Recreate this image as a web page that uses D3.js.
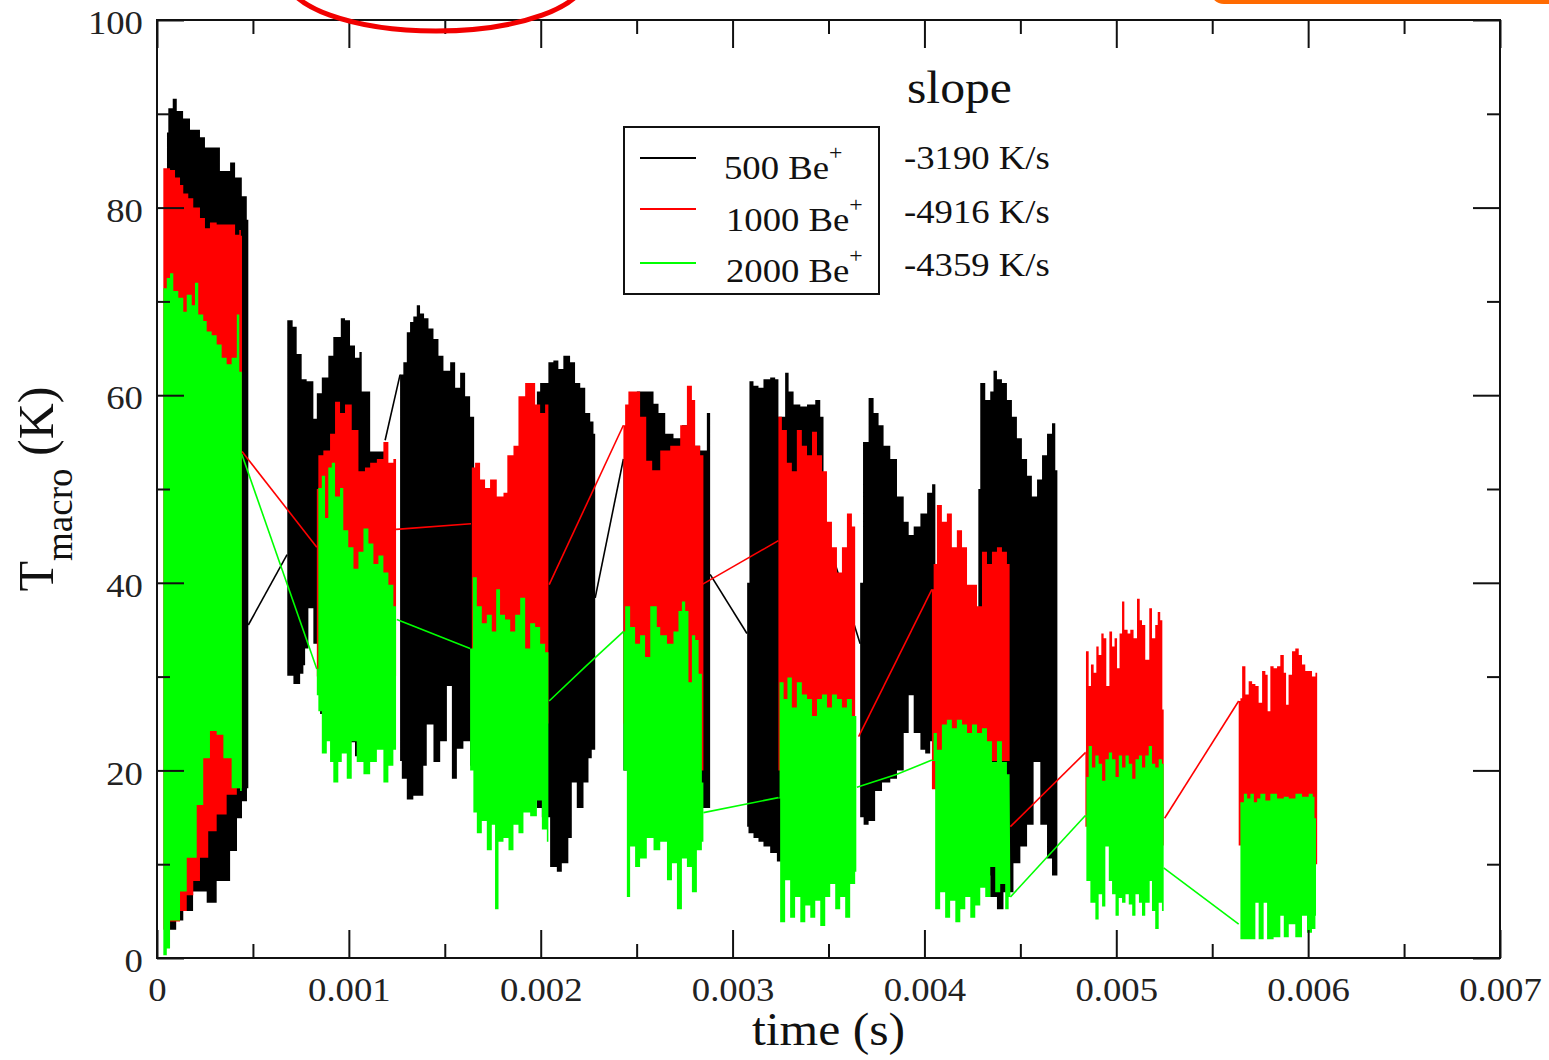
<!DOCTYPE html>
<html lang="en">

<head>
  <meta charset="UTF-8">
  <title>T macro vs time</title>
  <style>
    body {
      margin: 0;
      background: #fff;
    }

    svg {
      display: block;
    }
  </style>
  <script src="https://cdn.jsdelivr.net/npm/d3@7"></script>
</head>

<body>
  <div id="wrapper"></div>
  <script>
    // time is in microseconds, temperature in K
    // each series: list of segments, each segment = upper / lower envelope of the fast oscillation
    const black500Top = [
      [[52, 88], [59, 90.6], [82, 91.6], [103, 90.3], [136, 89.5], [172, 88.3], [224, 87.5], [250, 86.4], [292, 86.4], [328, 83.9], [381, 84.8], [407, 83.2], [442, 81.2], [468, 78.7], [476, 78]],
      [[679, 68], [707, 67.3], [728, 64.4], [754, 61.7], [780, 61.5], [815, 57.5], [833, 60.2], [859, 61.9], [893, 64.2], [919, 66.2], [958, 68.2], [980, 68], [1006, 65.3], [1032, 64], [1055, 64.6], [1067, 60.4], [1111, 54], [1189, 55.2]],
      [[1267, 62.2], [1284, 63.5], [1302, 66.7], [1319, 67.8], [1336, 68.4], [1354, 69.6], [1371, 68.7], [1392, 68.2], [1415, 67.1], [1441, 66], [1467, 64.2], [1493, 62.6], [1528, 63.5], [1554, 60.8], [1580, 62.4], [1606, 59.9], [1632, 57.7], [1653, 53.6]],
      [[1980, 60.4], [1997, 61.3], [2040, 63.5], [2066, 63.7], [2092, 62.8], [2118, 64.2], [2153, 63.5], [2179, 61.3], [2206, 60.8], [2232, 58.1], [2258, 57.2], [2275, 55.9], [2284, 50]],
      [[2431, 53.2], [2445, 58], [2501, 60.4], [2553, 60.4], [2588, 59.1], [2614, 58.1], [2649, 55.9], [2692, 55.4], [2736, 56.8], [2769, 58], [2796, 54.6], [2831, 54.1], [2866, 58.1], [2883, 45.6]],
      [[3076, 40], [3088, 61.5], [3109, 61], [3135, 60.8], [3161, 61.7], [3196, 61.9], [3222, 61.7], [3239, 57.7], [3274, 62.4], [3292, 60.4], [3318, 59], [3353, 58.8], [3388, 59], [3431, 59.5], [3457, 57.7], [3474, 53.6]],
      [[3665, 40], [3680, 55], [3709, 59.7], [3735, 58.1], [3761, 56.8], [3787, 54.6], [3822, 53.2], [3857, 49.2], [3892, 46.5], [3918, 45.1], [3944, 46], [3979, 47.4], [4014, 49.6], [4040, 50.5], [4057, 48.7]],
      [[4281, 50], [4291, 61.3], [4317, 59.5], [4343, 60.4], [4360, 62.6], [4378, 61.7], [4404, 61.3], [4430, 59.5], [4456, 57.7], [4482, 55.4], [4508, 53.2], [4535, 51.4], [4560, 49.2], [4587, 51], [4613, 53.6], [4639, 55.9], [4665, 57], [4682, 52], [4693, 50]]
    ];
    const black500Bottom = [
      [[52, 3], [100, 4], [137, 5], [188, 7.1], [259, 5.9], [311, 8.2], [381, 11.4], [417, 14.9], [443, 16.7], [469, 18.1], [476, 18.5]],
      [[679, 30.1], [711, 29.2], [746, 30.3], [763, 31.2], [772, 33], [789, 37.3], [815, 33.5], [850, 26], [954, 23], [1032, 21.5], [1111, 23], [1189, 24]],
      [[1267, 21], [1276, 19.1], [1302, 16.9], [1336, 17.3], [1388, 20.5], [1406, 24.9], [1441, 20.9], [1476, 23.1], [1511, 29], [1537, 19.1], [1563, 22.3], [1597, 23.1], [1632, 20.5], [1653, 23]],
      [[1980, 16], [2006, 15], [2049, 9.7], [2084, 9.2], [2110, 10.1], [2144, 12.8], [2162, 18.7], [2188, 16], [2223, 18.7], [2249, 21.3], [2266, 22.2], [2284, 24.9]],
      [[2431, 20], [2623, 18], [2831, 16], [2857, 16], [2883, 17]],
      [[3076, 14], [3083, 13.3], [3109, 12.8], [3135, 12.4], [3161, 11.9], [3196, 11.2], [3231, 10.3], [3353, 10], [3474, 12]],
      [[3665, 15], [3683, 14.2], [3709, 14.6], [3743, 17.8], [3779, 18.7], [3822, 19.1], [3857, 20], [3892, 24], [3918, 28], [3944, 24], [3979, 22.2], [4004, 21.8], [4030, 23.1], [4057, 22]],
      [[4281, 9], [4291, 8.8], [4343, 6.5], [4378, 5.2], [4412, 7], [4448, 7], [4464, 10.1], [4500, 11.9], [4535, 14.2], [4569, 20.9], [4604, 14.2], [4639, 10.6], [4665, 8.8], [4693, 8]]
    ];
    const black500Links = [
      [[476, 35.5], [678, 43]],
      [[1189, 55.2], [1267, 62.2]],
      [[1653, 38], [1975, 36]],
      [[2284, 38.4], [2431, 53.2]],
      [[2883, 40.9], [3075, 34.6]],
      [[3474, 46], [3665, 33.5]],
      [[4057, 35], [4281, 30]]
    ];

    const red1000Top = [
      [[33, 84.2], [68, 84], [94, 83.2], [120, 82.4], [137, 81.5], [163, 81], [189, 80], [224, 78.9], [250, 77.8], [276, 78.4], [311, 78.2], [346, 78.2], [381, 78.2], [407, 77.1], [429, 77.6], [437, 77], [443, 54]],
      [[833, 50], [841, 53.6], [867, 54.1], [902, 55.9], [928, 59.3], [954, 58.1], [980, 59], [1015, 56.3], [1050, 51.9], [1084, 52.3], [1111, 52.8], [1146, 53.2], [1180, 55], [1206, 52.8], [1232, 53.2], [1246, 46.7]],
      [[1641, 52.3], [1658, 52.8], [1684, 51], [1710, 50.1], [1736, 51], [1771, 49.2], [1806, 49.6], [1826, 53.6], [1858, 54.6], [1884, 59.9], [1919, 61.3], [1945, 61.3], [1971, 59], [1997, 58.1], [2023, 59], [2040, 45.6]],
      [[2431, 56.8], [2440, 59], [2457, 60.4], [2501, 60.4], [2518, 57.7], [2550, 53], [2581, 52], [2623, 54.1], [2675, 54.6], [2727, 56.8], [2762, 61], [2788, 59.5], [2805, 54.6], [2831, 53.6], [2848, 45.6]],
      [[3239, 57.7], [3257, 56.3], [3283, 52.8], [3309, 51.9], [3335, 56.3], [3361, 54.6], [3388, 53.6], [3414, 56.1], [3440, 53.6], [3466, 51.9], [3492, 46.5], [3518, 43.8], [3544, 41.1], [3570, 43.8], [3596, 47.4], [3622, 46], [3639, 33.9]],
      [[4039, 39.3], [4048, 42], [4065, 48.3], [4091, 46.5], [4117, 47.4], [4143, 43.8], [4169, 45.6], [4196, 43.8], [4222, 39.8], [4248, 39.8], [4274, 37.5], [4300, 43.3], [4326, 42], [4352, 43.3], [4378, 43.8], [4404, 43.3], [4430, 42], [4444, 38]],
      [[4839, 22], [4842, 32.7], [4856, 29], [4868, 31.3], [4882, 30.4], [4896, 33.2], [4908, 32.3], [4922, 34.6], [4934, 34.1], [4948, 29], [4964, 34.8], [4978, 33.2], [4991, 34.1], [5004, 30.9], [5017, 34.6], [5030, 38], [5042, 35], [5059, 34.6], [5073, 35], [5090, 34.1], [5108, 38.3], [5122, 36], [5134, 35.5], [5151, 31.8], [5172, 37.3], [5186, 34.1], [5203, 35.5], [5216, 36.9], [5229, 36], [5240, 26.5], [5247, 20.7]],
      [[5638, 27.4], [5647, 27.7], [5656, 31.1], [5673, 28.1], [5690, 29.5], [5708, 29.2], [5725, 29], [5742, 27.2], [5760, 30.6], [5777, 30.2], [5789, 26.3], [5803, 31.1], [5820, 30.9], [5838, 31.1], [5855, 32.3], [5873, 30.4], [5885, 27], [5898, 30.2], [5916, 32.7], [5933, 33], [5951, 32.3], [5968, 31.3], [5985, 30.6], [6003, 30.6], [6020, 30], [6038, 30.4], [6047, 21.4]]
    ];
    const red1000Bottom = [
      [[33, 3], [68, 3.9], [120, 5], [155, 6.7], [189, 8.2], [224, 10.7], [267, 13.5], [311, 15.3], [363, 17.4], [416, 18.1], [443, 18.1]],
      [[833, 30], [950, 29], [1050, 28], [1150, 30], [1246, 37.5]],
      [[1641, 28], [1750, 26], [1850, 26], [1950, 25], [2040, 30]],
      [[2431, 25], [2550, 22], [2650, 22], [2760, 20], [2848, 22]],
      [[3239, 20], [3400, 18], [3550, 18], [3639, 22]],
      [[4039, 18], [4200, 18], [4350, 21], [4444, 21.5]],
      [[4839, 14], [5000, 12], [5247, 14]],
      [[5638, 12], [5850, 10], [6047, 12]]
    ];
    const red1000Links = [
      [[443, 54], [833, 43.8]],
      [[1246, 45.7], [1637, 46.3]],
      [[2044, 39.8], [2431, 56.8]],
      [[2840, 39.8], [3239, 44.5]],
      [[3657, 23.6], [4039, 39.3]],
      [[4448, 14], [4839, 21.9]],
      [[5252, 14.9], [5638, 27.4]]
    ];

    const green2000Top = [
      [[33, 71.4], [51, 72.5], [68, 73], [85, 71.1], [111, 70.4], [137, 68.9], [155, 70.7], [181, 69.6], [198, 72], [215, 68.6], [241, 67.9], [259, 66.8], [285, 66.4], [311, 65.4], [337, 64], [363, 63.3], [389, 64], [416, 68.6], [429, 62.5], [442, 53.7]],
      [[833, 30.8], [841, 50.1], [859, 51.4], [876, 46.9], [893, 52.3], [911, 52.8], [928, 49.2], [954, 50.1], [971, 45.6], [997, 43.8], [1024, 41.5], [1050, 43.3], [1076, 45.8], [1102, 44.2], [1128, 42], [1154, 42.9], [1180, 41.1], [1206, 39.8], [1232, 37.5], [1246, 36.6]],
      [[1632, 33], [1646, 40.6], [1667, 37.5], [1693, 35.7], [1719, 36.6], [1745, 34.8], [1768, 39.3], [1788, 36.6], [1814, 36.1], [1841, 34.8], [1867, 36.6], [1893, 38.4], [1919, 33], [1945, 35.7], [1971, 35.3], [1997, 33.5], [2023, 32.6], [2040, 27.6]],
      [[2431, 34.8], [2440, 37.5], [2466, 35.3], [2492, 33.5], [2518, 34.4], [2544, 32.1], [2571, 37.5], [2605, 35.3], [2623, 34.4], [2658, 33.5], [2692, 34.8], [2718, 37], [2736, 38], [2753, 37], [2770, 29.4], [2788, 34.4], [2805, 33.9], [2823, 30.3], [2840, 18.7], [2848, 16.8]],
      [[3239, 17.1], [3245, 29.4], [3266, 27.6], [3286, 29.9], [3309, 26.7], [3335, 29.4], [3361, 28.1], [3388, 27.6], [3414, 25.8], [3440, 27.6], [3466, 28.1], [3492, 26.7], [3518, 28.1], [3544, 27.6], [3570, 26.7], [3596, 27.6], [3622, 25.8], [3645, 26.7]],
      [[4039, 21.1], [4048, 24], [4065, 22.2], [4091, 24.9], [4117, 25.4], [4143, 24.5], [4169, 25.4], [4196, 24.9], [4222, 24], [4248, 24.9], [4274, 24], [4300, 24.5], [4326, 23.1], [4352, 20.9], [4378, 23.1], [4404, 20.9], [4430, 19.6], [4444, 18.7]],
      [[4839, 15.2], [4844, 19.3], [4856, 22.6], [4873, 20.3], [4891, 21.6], [4908, 20.7], [4926, 18.9], [4943, 21.2], [4961, 21.9], [4978, 21.2], [4996, 19.3], [5013, 21.6], [5030, 20.3], [5048, 21.6], [5065, 20.7], [5083, 19.1], [5100, 21.2], [5118, 21.6], [5134, 20.3], [5151, 21.6], [5169, 22.6], [5186, 20.7], [5203, 20.3], [5221, 21.2], [5238, 20.7], [5247, 9.6]],
      [[5638, 3.6], [5647, 16.6], [5665, 17.5], [5682, 17], [5699, 17.5], [5717, 16.6], [5734, 17], [5751, 17.5], [5777, 16.8], [5803, 17.5], [5838, 17], [5873, 17.2], [5899, 17], [5934, 17.5], [5968, 17.2], [6003, 17.5], [6024, 17.2], [6033, 14.9], [6041, 14.9]]
    ];
    const green2000Bottom = [
      [[33, 0.3], [51, 1], [68, 4], [120, 7.1], [155, 10.7], [207, 16.3], [241, 21.3], [276, 24.2], [311, 23.8], [346, 21.3], [389, 18.1], [433, 17.8], [442, 20]],
      [[833, 28], [841, 26.3], [859, 21.8], [885, 23.1], [902, 20.9], [919, 18.7], [945, 20.9], [963, 21.8], [989, 19.1], [1015, 23.1], [1041, 20.9], [1076, 19.6], [1111, 20.9], [1146, 22.2], [1180, 18.7], [1206, 20.5], [1232, 22.2], [1246, 30]],
      [[1632, 20], [1649, 15.5], [1667, 13.3], [1693, 14.6], [1719, 11.5], [1745, 14.2], [1762, 5.2], [1780, 12.4], [1806, 12.8], [1832, 11.5], [1858, 14.2], [1884, 13.3], [1910, 15.5], [1945, 15.1], [1980, 16.8], [2006, 13.7], [2032, 12.4], [2040, 20]],
      [[2431, 20], [2449, 6.5], [2466, 11.9], [2492, 9.7], [2518, 10.6], [2553, 12.8], [2588, 11.5], [2623, 12.4], [2658, 8.3], [2684, 10.1], [2710, 5.2], [2736, 10.6], [2762, 9.7], [2788, 7], [2814, 11.5], [2840, 12.4], [2848, 15.5]],
      [[3239, 17], [3248, 3.8], [3274, 8.3], [3300, 4.3], [3326, 6.5], [3353, 3.8], [3379, 5.6], [3405, 4.3], [3431, 6.1], [3457, 3.4], [3483, 6.5], [3509, 7.9], [3535, 5.2], [3561, 6.5], [3587, 4.3], [3613, 7.9], [3639, 9.2], [3645, 18]],
      [[4039, 21], [4056, 5.2], [4082, 7], [4108, 4.3], [4134, 6.1], [4161, 3.8], [4187, 5.2], [4213, 6.5], [4239, 4.3], [4265, 5.6], [4291, 7.5], [4317, 6.5], [4343, 9.7], [4369, 7], [4395, 7.9], [4421, 5.2], [4439, 6.5], [4448, 6.5]],
      [[4839, 15], [4844, 8.2], [4865, 5.9], [4891, 4.1], [4908, 6.8], [4926, 5.5], [4943, 11.9], [4961, 8.2], [4978, 6.8], [4996, 4.5], [5013, 6.4], [5030, 5.9], [5048, 6.8], [5065, 5.7], [5083, 4.5], [5100, 6.8], [5118, 5.9], [5134, 4.5], [5151, 5.9], [5174, 8.2], [5186, 5], [5203, 3.1], [5221, 5.9], [5238, 5], [5247, 9.6]],
      [[5638, 3.6], [5647, 2], [5699, 2], [5725, 5.9], [5742, 2], [5768, 5.9], [5786, 2], [5820, 2.2], [5855, 4.5], [5873, 2.2], [5899, 3.6], [5933, 2.2], [5968, 4.5], [5994, 2.7], [6020, 3.1], [6038, 4.5], [6041, 14.9]]
    ];
    const green2000Links = [
      [[442, 53.7], [833, 30.8]],
      [[1250, 36.1], [1632, 33]],
      [[2044, 27.4], [2240, 31.2], [2431, 34.8]],
      [[2848, 15.5], [3239, 17.1]],
      [[3648, 18.2], [3857, 19.6], [4039, 21.1]],
      [[4448, 6.5], [4839, 15.2]],
      [[5247, 9.6], [5638, 3.6]]
    ];

    const xMajorTicks = [0, 0.001, 0.002, 0.003, 0.004, 0.005, 0.006, 0.007];
    const xMinorTicks = [0.0005, 0.0015, 0.0025, 0.0035, 0.0045, 0.0055, 0.0065];
    const xTickLabels = ["0", "0.001", "0.002", "0.003", "0.004", "0.005", "0.006", "0.007"];
    const yMajorTicks = [0, 20, 40, 60, 80, 100];
    const yMinorTicks = [10, 30, 50, 70, 90];
    const yTickLabels = ["0", "20", "40", "60", "80", "100"];

    const legendLabels = ["500 Be", "1000 Be", "2000 Be"];
    const seriesColors = ["#000000", "#ff0000", "#00ff00"];
    const slopeTitle = "slope";
    const slopeValues = ["-3190 K/s", "-4916 K/s", "-4359 K/s"];

    function drawChart() {
      //#region Accessors
      const xAccessor = d => d[0] * 1e-6;
      const yAccessor = d => d[1];
      //#endregion

      //#region Dimensions
      let dimensions = {
        width: 1549,
        height: 1060,
        margin: {
          top: 20,
          right: 49,
          bottom: 102,
          left: 157,
        },
      };
      dimensions.boundedWidth = dimensions.width - dimensions.margin.left - dimensions.margin.right;
      dimensions.boundedHeight = dimensions.height - dimensions.margin.top - dimensions.margin.bottom;
      const serif = "'Liberation Serif', 'Times New Roman', serif";
      const stretch = 1.08;
      //#endregion

      //#region Canvas
      const wrapper = d3.select("#wrapper")
        .append("svg")
        .attr("width", dimensions.width)
        .attr("height", dimensions.height);

      const bounds = wrapper.append("g")
        .attr("transform", `translate(${dimensions.margin.left},${dimensions.margin.top})`);
      //#endregion

      //#region Scales
      const xScale = d3.scaleLinear()
        .domain([0, 0.007])
        .range([0, dimensions.boundedWidth]);

      const yScale = d3.scaleLinear()
        .domain([0, 100])
        .range([dimensions.boundedHeight, 0]);
      //#endregion

      //#region Data
      const topLine = d3.line()
        .x(d => xScale(xAccessor(d)))
        .y(d => yScale(yAccessor(d)))
        .curve(d3.curveStepAfter);
      const bottomLine = d3.line()
        .x(d => xScale(xAccessor(d)))
        .y(d => yScale(yAccessor(d)))
        .curve(d3.curveStepBefore);
      const linkLine = d3.line()
        .x(d => xScale(xAccessor(d)))
        .y(d => yScale(yAccessor(d)));

      const bandPath = (top, bottom) =>
        topLine(top) + bottomLine(bottom.slice().reverse()).replace(/^M/, "L") + "Z";

      const series = [
        { top: black500Top, bottom: black500Bottom, links: black500Links, color: seriesColors[0] },
        { top: red1000Top, bottom: red1000Bottom, links: red1000Links, color: seriesColors[1] },
        { top: green2000Top, bottom: green2000Bottom, links: green2000Links, color: seriesColors[2] },
      ];

      series.forEach(s => {
        const g = bounds.append("g");
        g.selectAll(".band")
          .data(d3.zip(s.top, s.bottom))
          .join("path")
          .attr("class", "band")
          .attr("d", ([t, b]) => bandPath(t, b))
          .attr("fill", s.color);
        g.selectAll(".link")
          .data(s.links)
          .join("path")
          .attr("class", "link")
          .attr("d", linkLine)
          .attr("fill", "none")
          .attr("stroke", s.color)
          .attr("stroke-width", 1.6);
      });
      //#endregion

      //#region Axes
      const styleAxis = g => {
        g.select(".domain").remove();
        g.selectAll(".tick line").attr("stroke", "#111").attr("stroke-width", 2);
        g.attr("font-family", serif).attr("font-size", 34);
        g.selectAll(".tick text").attr("fill", "#222").attr("transform", `scale(${stretch},1)`);
      };

      bounds.append("g")
        .attr("transform", `translate(0,${dimensions.boundedHeight})`)
        .call(d3.axisBottom(xScale).tickValues(xMajorTicks).tickSize(-28).tickPadding(19)
          .tickFormat((d, i) => xTickLabels[i]))
        .call(styleAxis);
      bounds.append("g")
        .attr("transform", `translate(0,${dimensions.boundedHeight})`)
        .call(d3.axisBottom(xScale).tickValues(xMinorTicks).tickSize(-14).tickFormat(""))
        .call(styleAxis);
      bounds.append("g")
        .call(d3.axisTop(xScale).tickValues(xMajorTicks).tickSize(-28).tickFormat(""))
        .call(styleAxis);
      bounds.append("g")
        .call(d3.axisTop(xScale).tickValues(xMinorTicks).tickSize(-14).tickFormat(""))
        .call(styleAxis);

      bounds.append("g")
        .call(d3.axisLeft(yScale).tickValues(yMajorTicks).tickSize(-27).tickPadding(13)
          .tickFormat((d, i) => yTickLabels[i]))
        .call(styleAxis)
        .call(g => g.selectAll(".tick text").attr("dy", "0.4em"));
      bounds.append("g")
        .call(d3.axisLeft(yScale).tickValues(yMinorTicks).tickSize(-13).tickFormat(""))
        .call(styleAxis);
      bounds.append("g")
        .attr("transform", `translate(${dimensions.boundedWidth},0)`)
        .call(d3.axisRight(yScale).tickValues(yMajorTicks).tickSize(-27).tickFormat(""))
        .call(styleAxis);
      bounds.append("g")
        .attr("transform", `translate(${dimensions.boundedWidth},0)`)
        .call(d3.axisRight(yScale).tickValues(yMinorTicks).tickSize(-13).tickFormat(""))
        .call(styleAxis);

      bounds.append("rect")
        .attr("width", dimensions.boundedWidth)
        .attr("height", dimensions.boundedHeight)
        .attr("fill", "none")
        .attr("stroke", "#111")
        .attr("stroke-width", 2);

      // axis titles
      wrapper.append("text")
        .attr("transform", `translate(${dimensions.margin.left + dimensions.boundedWidth / 2},1045) scale(${stretch},1)`)
        .attr("text-anchor", "middle")
        .attr("font-family", serif)
        .attr("font-size", 46)
        .attr("fill", "#111")
        .text("time (s)");

      const yTitle = wrapper.append("text")
        .attr("transform", `translate(53,${dimensions.margin.top + dimensions.boundedHeight / 2}) rotate(-90)`)
        .attr("text-anchor", "middle")
        .attr("font-family", serif)
        .attr("font-size", 50)
        .attr("fill", "#111");
      yTitle.append("tspan").text("T");
      yTitle.append("tspan").attr("font-size", 37).attr("dy", 19).text("macro");
      yTitle.append("tspan").attr("dy", -19).text(" (K)");
      //#endregion

      //#region Legend
      const legend = wrapper.append("g");
      legend.append("rect")
        .attr("x", 624)
        .attr("y", 127)
        .attr("width", 255)
        .attr("height", 167)
        .attr("fill", "#fff")
        .attr("stroke", "#111")
        .attr("stroke-width", 2);

      const rowY = [158, 209, 263];
      const labelY = [179, 231, 282];
      const labelX = [724, 726, 726];
      legendLabels.forEach((label, i) => {
        legend.append("line")
          .attr("x1", 640)
          .attr("x2", 696)
          .attr("y1", rowY[i])
          .attr("y2", rowY[i])
          .attr("stroke", seriesColors[i])
          .attr("stroke-width", 2);
        const t = legend.append("text")
          .attr("transform", `translate(${labelX[i]},${labelY[i]}) scale(${stretch},1)`)
          .attr("font-family", serif)
          .attr("font-size", 34)
          .attr("fill", "#111");
        t.append("tspan").text(label);
        t.append("tspan").attr("font-size", 22).attr("dy", -19).text("+");

        legend.append("text")
          .attr("transform", `translate(904,${labelY[i] - 10 + i * 2}) scale(${stretch},1)`)
          .attr("font-family", serif)
          .attr("font-size", 34)
          .attr("fill", "#111")
          .text(slopeValues[i]);
      });

      legend.append("text")
        .attr("transform", `translate(907,103) scale(${stretch},1)`)
        .attr("font-family", serif)
        .attr("font-size", 46)
        .attr("fill", "#111")
        .text(slopeTitle);
      //#endregion

      //#region Annotation marks on the page
      wrapper.append("ellipse")
        .attr("cx", 436)
        .attr("cy", -23)
        .attr("rx", 150)
        .attr("ry", 54)
        .attr("fill", "none")
        .attr("stroke", "#f20000")
        .attr("stroke-width", 5);

      wrapper.append("rect")
        .attr("x", 1212)
        .attr("y", -40)
        .attr("width", 400)
        .attr("height", 42)
        .attr("rx", 12)
        .attr("fill", "none")
        .attr("stroke", "#ff6a00")
        .attr("stroke-width", 4);
      //#endregion
    }

    drawChart();
  </script>
</body>

</html>
